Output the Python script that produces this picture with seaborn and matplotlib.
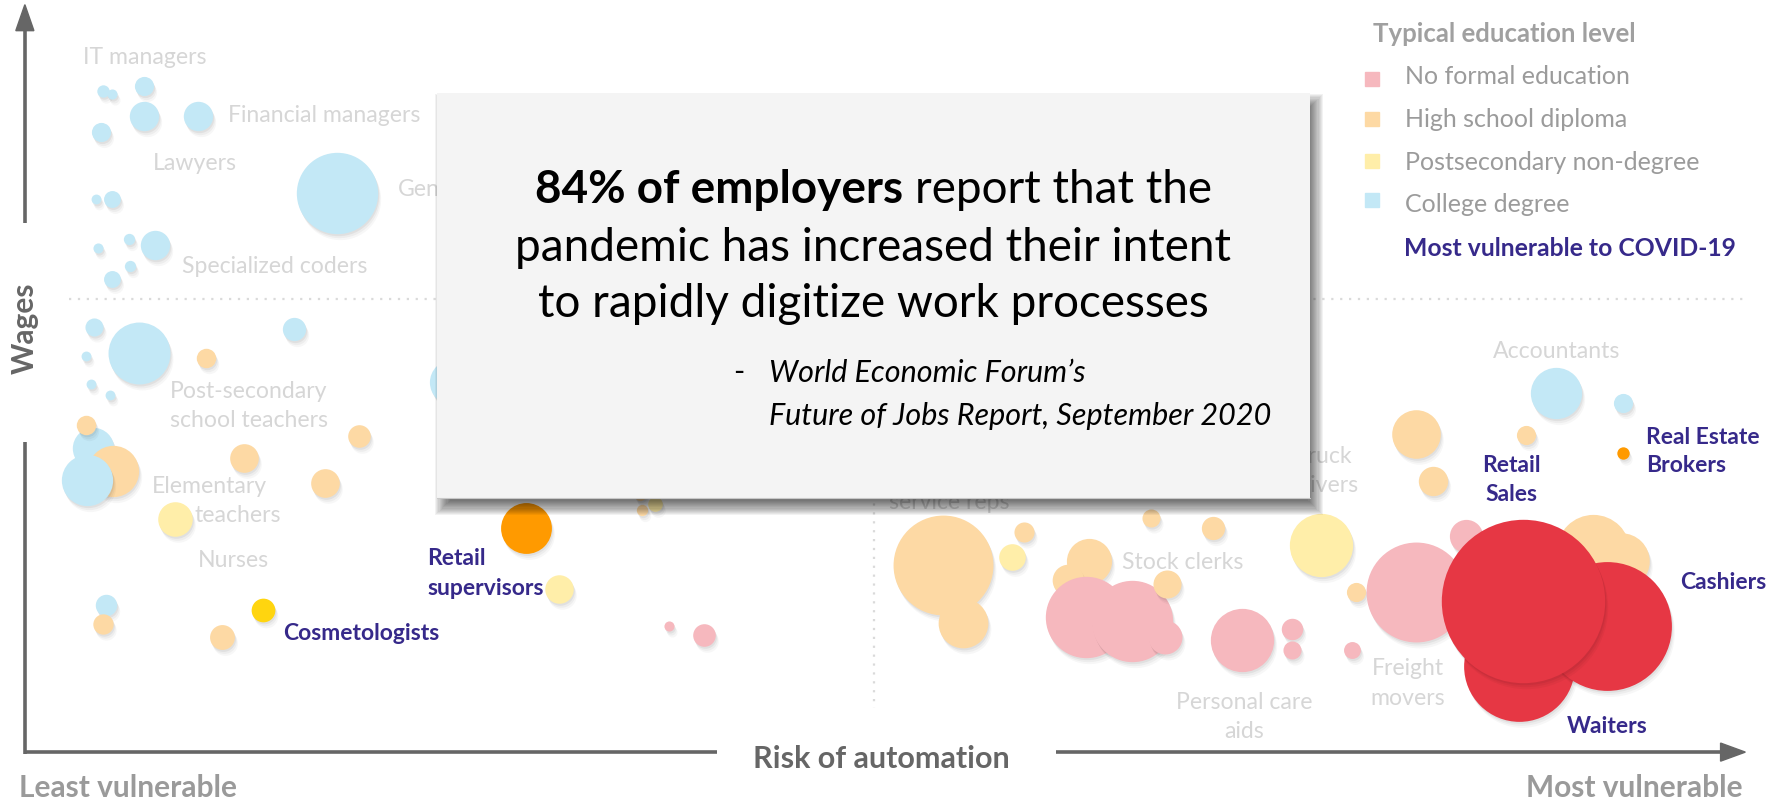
import matplotlib
matplotlib.use("Agg")
import numpy as np
import pandas as pd
import matplotlib.pyplot as plt
import matplotlib.transforms as mtransforms
from matplotlib.patches import Rectangle, Polygon
import seaborn as sns

# ---------------- data ----------------
# risk of automation (0-100, least -> most vulnerable), wages (0-100 index),
# workers (millions, bubble area), typical education level, highlighted occupation
risk = [4.6, 5.1, 7.0, 7.0, 10.1, 4.5, 18.2, 4.2, 5.1, 4.3, 6.1, 7.6, 6.2, 5.1, 4.1,
        6.7, 3.6, 3.9, 5.0, 15.7, 24.9, 4.0, 4.8, 89.0, 92.9,
        10.6, 3.6, 5.2, 3.7,
        12.8, 19.5, 17.5, 4.6, 11.5, 35.8, 35.9, 53.4, 54.6, 58.1, 61.9, 60.7,
        65.5, 69.1, 77.4, 80.9, 87.3, 81.9, 91.2, 92.8,
        8.8, 31.1, 36.7, 57.4, 75.4,
        37.5, 39.5, 61.7, 64.4, 66.3, 70.8, 73.7, 73.7, 77.2, 80.9, 83.8,
        66.4,
        29.2, 13.9, 92.9, 86.9, 92.0, 87.1]
wage = [87.8, 87.4, 88.4, 84.5, 84.5, 82.3, 74.3, 73.4, 73.4, 67.0, 68.1, 67.3, 64.5, 62.8, 56.5,
        53.0, 52.6, 48.9, 47.4, 56.2, 49.2, 40.4, 19.6, 47.7, 46.4,
        52.3, 43.5, 37.3, 36.1,
        39.1, 42.0, 35.7, 17.0, 15.3, 34.1, 32.2, 24.9, 17.2, 29.2, 25.4, 22.8,
        31.1, 29.7, 21.2, 42.2, 42.1, 36.0, 26.7, 25.4,
        30.9, 21.7, 33.0, 25.9, 27.5,
        16.7, 15.6, 18.0, 17.4, 15.3, 14.9, 16.3, 13.5, 13.6, 21.2, 28.7,
        22.3,
        29.8, 18.9, 39.7, 11.4, 16.8, 20.1]
workers = [0.030, 0.020, 0.072, 0.169, 0.169, 0.072, 1.296, 0.019, 0.056, 0.020, 0.025, 0.169, 0.025, 0.056, 0.064,
           0.751, 0.019, 0.019, 0.019, 0.106, 0.400, 0.335, 0.090, 0.515, 0.072,
           0.074, 0.074, 0.515, 0.515,
           0.161, 0.100, 0.161, 0.081, 0.121, 0.025, 0.025, 1.954, 0.484, 0.079, 0.400, 0.196,
           0.064, 0.106, 0.072, 0.462, 0.072, 0.169, 1.050, 0.625,
           0.234, 0.159, 0.042, 0.139, 0.784,
           0.020, 0.100, 1.296, 1.296, 0.225, 0.784, 0.090, 0.064, 0.056, 1.954, 0.216,
           0.154,
           0.506, 0.110, 0.030, 2.401, 3.249, 5.227]
education = (["College degree"] * 25
             + ["High school diploma"] * 3 + ["College degree"]
             + ["High school diploma"] * 20
             + ["Postsecondary non-degree"] * 5
             + ["No formal education"] * 11
             + ["High school diploma"]
             + ["High school diploma", "Postsecondary non-degree", "High school diploma",
                "No formal education", "No formal education", "No formal education"])
highlight = [""] * 66 + ["Retail supervisors", "Cosmetologists", "Real Estate Brokers",
                         "Waiters", "Cashiers", "Retail Sales"]

edu_levels = ["No formal education", "High school diploma", "Postsecondary non-degree", "College degree"]

# ---------------- styling ----------------
sns.set_theme(style="white")
plt.rcParams["font.family"] = ["Lato", "DejaVu Sans"]

light = {"No formal education": "#F6B8BE", "High school diploma": "#FDD9A4",
         "Postsecondary non-degree": "#FFEEA9", "College degree": "#C3E8F6"}
strong = {"No formal education": "#E63744", "High school diploma": "#FF9A00",
          "Postsecondary non-degree": "#FFD50F", "College degree": "#2E9BD6"}
PURPLE = "#36298A"
LABEL_GRAY = "#D6D6D6"
AXIS_GRAY = "#666666"

df = pd.DataFrame({"risk": risk, "wage": wage, "workers": workers,
                   "education": education, "highlight": highlight})
df["group"] = np.where(df["highlight"] != "", df["education"] + " *", df["education"])
palette = {**light, **{k + " *": v for k, v in strong.items()}}

W, H = 1772, 804
SW, SH = 1568.0, 711.0  # layout grid used for annotations
fig = plt.figure(figsize=(W / 100, H / 100), dpi=100)
ax = fig.add_axes([0, 0, 1, 1])
ax.set_xlim(-1.379, 101.576)
ax.set_ylim(-6.757, 100.0)
ax.axis("off")

T = mtransforms.Affine2D().scale(1 / SW, -1 / SH).translate(0, 1) + fig.transFigure

EMAX = max(workers)
SIZES = (0, 2648 * EMAX)
NORM = (0, EMAX)

def shift_last(dx, dy):
    coll = ax.collections[-1]
    coll.set_offset_transform(ax.transData + mtransforms.Affine2D().translate(dx, -dy))

for i in range(len(df)):
    row = df.iloc[[i]]
    for dx, dy, a in [(1, 2, 0.05), (2, 4, 0.04), (3, 6, 0.03)]:
        sns.scatterplot(data=row, x="risk", y="wage", size="workers", sizes=SIZES,
                        size_norm=NORM, color="black", alpha=a, linewidth=0,
                        legend=False, ax=ax, zorder=2)
        shift_last(dx, dy)
    sns.scatterplot(data=row, x="risk", y="wage", hue="group", palette=palette,
                    size="workers", sizes=SIZES, size_norm=NORM, linewidth=0,
                    legend=False, ax=ax, zorder=2)

# dotted guide lines
ax.plot([61, 1544], [265.5, 265.5], transform=T, color="#DADADA", lw=1.6,
        ls=(0, (1, 3)), zorder=1)
ax.plot([773.5, 773.5], [265.5, 627], transform=T, color="#DADADA", lw=1.6,
        ls=(0, (1, 3)), zorder=1)

# axes with arrows
lw = 2.6
ax.plot([22, 22], [198, 22], transform=T, color=AXIS_GRAY, lw=lw, solid_capstyle="butt", zorder=3)
ax.add_patch(Polygon([[14, 28], [30, 28], [22, 5]], closed=True, transform=T,
                     color=AXIS_GRAY, zorder=3))
ax.plot([22, 22], [391.7, 667.5], transform=T, color=AXIS_GRAY, lw=lw, solid_capstyle="butt", zorder=3)
ax.plot([22, 634.4], [666, 666], transform=T, color=AXIS_GRAY, lw=lw, solid_capstyle="butt", zorder=3)
ax.plot([934.4, 1524], [666, 666], transform=T, color=AXIS_GRAY, lw=lw, solid_capstyle="butt", zorder=3)
ax.add_patch(Polygon([[1522.5, 658], [1522.5, 674], [1544.4, 666]], closed=True,
                     transform=T, color=AXIS_GRAY, zorder=3))

ax.text(22, 290, "Wages", transform=T, rotation=90, ha="center", va="center",
        fontsize=21.5, fontweight="bold", color=AXIS_GRAY)
ax.text(666, 671, "Risk of automation", transform=T, ha="left", va="center",
        fontsize=22, fontweight="bold", color=AXIS_GRAY)
ax.text(17, 697, "Least vulnerable", transform=T, ha="left", va="center",
        fontsize=21.5, fontweight="bold", color="#9A9A9A")
ax.text(1541.6, 697, "Most vulnerable", transform=T, ha="right", va="center",
        fontsize=21.5, fontweight="bold", color="#9A9A9A")

# occupation labels
gray_labels = [("IT managers", 73.8, 50.7, "left"), ("Financial managers", 201.5, 102.4, "left"),
               ("Lawyers", 135.4, 144.6, "left"), ("General", 352, 167.6, "left"),
               ("Specialized coders", 160.8, 236, "left"), ("Post-secondary", 150.4, 346.6, "left"),
               ("school teachers", 150.4, 371.6, "left"), ("Elementary", 134.2, 430.6, "left"),
               ("teachers", 172.5, 455.7, "left"), ("Nurses", 174.7, 495.6, "left"),
               ("Customer", 840, 419, "center"), ("service reps", 840, 444, "center"),
               ("Truck", 1171, 403.6, "center"), ("drivers", 1171, 429.2, "center"),
               ("Stock clerks", 993, 497, "left"), ("Accountants", 1377, 311, "center"),
               ("Personal care", 1101, 621, "center"), ("aids", 1101, 646.6, "center"),
               ("Freight", 1246, 591.5, "center"), ("movers", 1246, 618, "center")]
for s, x, y, ha in gray_labels:
    ax.text(x, y, s, transform=T, ha=ha, va="center", fontsize=16.6, color=LABEL_GRAY, zorder=4)

purple_labels = [("Retail", 378, 494.1, "left"), ("supervisors", 378, 520.7, "left"),
                 ("Cosmetologists", 250.6, 560.5, "left"), ("Retail", 1337, 411.5, "center"),
                 ("Sales", 1337, 437, "center"), ("Real Estate", 1456.6, 387, "left"),
                 ("Brokers", 1456.6, 412, "left"), ("Cashiers", 1486.8, 514.8, "left"),
                 ("Waiters", 1422, 642.5, "center")]
for s, x, y, ha in purple_labels:
    ax.text(x, y, s, transform=T, ha=ha, va="center", fontsize=16.5, fontweight="bold",
            color=PURPLE, zorder=5)

# legend
ax.text(1214.6, 30.4, "Typical education level", transform=T, ha="left", va="center",
        fontsize=18.5, fontweight="bold", color="#A0A0A0", zorder=8)
sq_y = [70.8, 106.2, 143, 178]
tx_y = [67.9, 105.3, 144, 180.5]
for lev, yq, yt in zip(edu_levels, sq_y, tx_y):
    ax.add_patch(Rectangle((1207.8, yq - 6.2), 12.4, 12.4, transform=T,
                           color=light[lev], zorder=8))
    ax.text(1243.2, yt, lev, transform=T, ha="left", va="center", fontsize=18,
            color="#9B9B9B", zorder=8)
ax.text(1242.3, 219.8, "Most vulnerable to COVID-19", transform=T, ha="left", va="center",
        fontsize=17.8, fontweight="bold", color=PURPLE, zorder=8)

# quote box with soft shadow
bx, by, bw, bh = 387, 83, 771.8, 358.6
for g in np.linspace(-6, 7, 14):
    ax.add_patch(Rectangle((bx + 5 - g, by + 8 - g), bw + 2 * g, bh + 2 * g, transform=T,
                           facecolor="black", edgecolor="none", alpha=0.05, zorder=6))
ax.add_patch(Rectangle((bx, by), bw, bh, transform=T, facecolor="#F4F4F4",
                       edgecolor="none", zorder=7))
ax.plot([bx, bx + bw], [by + bh, by + bh], transform=T, color="#C8C8C8", lw=0.8, zorder=7)

QF = 33
renderer = fig.canvas.get_renderer()
t1 = ax.text(0, 168, "84% of employers", transform=T, ha="left", va="center",
             fontsize=QF, fontweight="bold", color="black", zorder=9)
t2 = ax.text(0, 168, "report that the", transform=T, ha="left", va="center",
             fontsize=QF, color="black", zorder=9)
k = SW / W
w1 = t1.get_window_extent(renderer).width * k
w2 = t2.get_window_extent(renderer).width * k
space = QF * 0.26 * 100 / 72 * k
cx = bx + bw / 2
start = cx - (w1 + space + w2) / 2
t1.set_x(start)
t2.set_x(start + w1 + space)
ax.text(cx, 219, "pandemic has increased their intent", transform=T, ha="center",
        va="center", fontsize=QF, color="black", zorder=9)
ax.text(cx, 269, "to rapidly digitize work processes", transform=T, ha="center",
        va="center", fontsize=QF, color="black", zorder=9)
ax.text(653.6, 329, "-", transform=T, ha="center", va="center", fontsize=22,
        color="black", zorder=9)
ax.text(680.5, 330, "World Economic Forum\u2019s", transform=T, ha="left", va="center",
        fontsize=22, style="italic", color="black", zorder=9)
ax.text(680.5, 368, "Future of Jobs Report, September 2020", transform=T, ha="left",
        va="center", fontsize=22, style="italic", color="black", zorder=9)

fig.savefig("out.png", dpi=100, facecolor="white")
